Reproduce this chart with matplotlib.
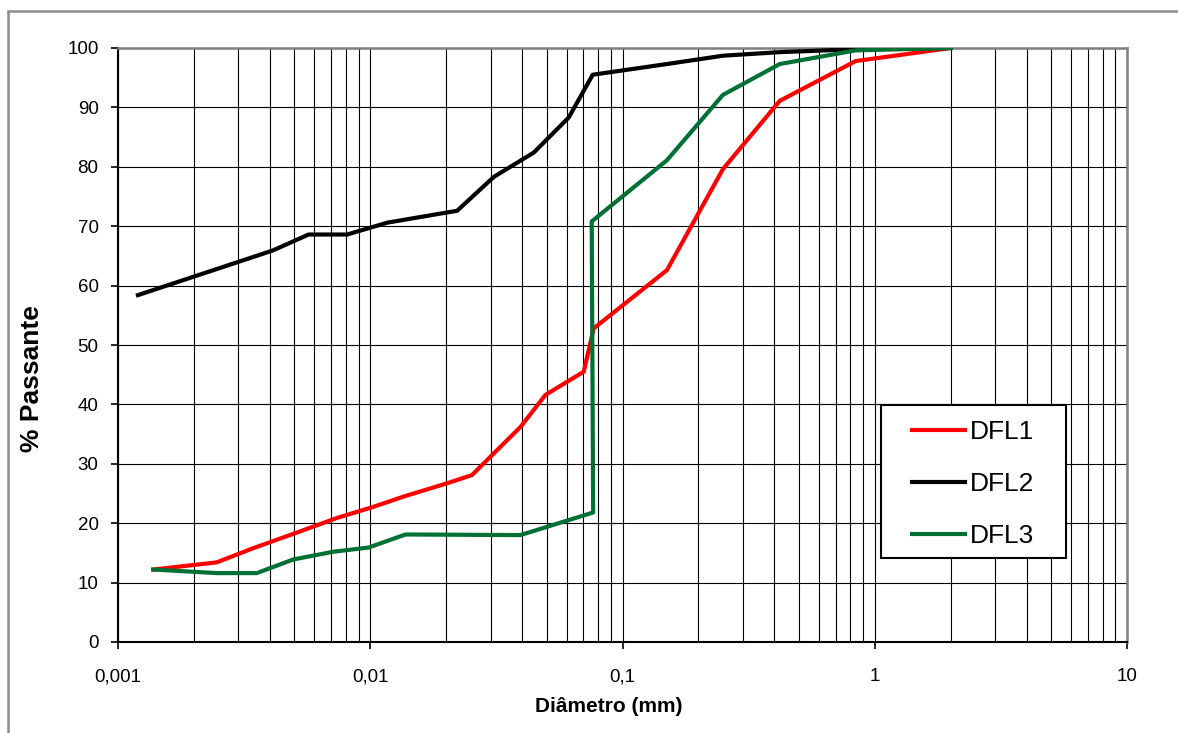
import matplotlib.pyplot as plt
from matplotlib.patches import Rectangle
from matplotlib.ticker import FixedLocator, LogLocator, NullFormatter

plt.rcParams['font.family'] = ['Liberation Sans', 'DejaVu Sans']

# diameters (mm) and % passing
dfl1_d = [0.00138, 0.00246, 0.00344, 0.0051, 0.0074, 0.0102, 0.0136, 0.0201, 0.0253,
          0.0394, 0.0495, 0.0702, 0.0769, 0.15, 0.25, 0.42, 0.84, 2.0]
dfl1_p = [12.2, 13.4, 15.8, 18.4, 20.9, 22.7, 24.5, 26.7, 28.1,
          36.2, 41.6, 45.5, 52.8, 62.6, 79.6, 91.1, 97.8, 100]

dfl2_d = [0.0012, 0.0041, 0.0057, 0.0081, 0.0117, 0.0221, 0.0309, 0.0445, 0.0612,
          0.0762, 0.15, 0.25, 0.42, 0.84, 2.0]
dfl2_p = [58.4, 65.9, 68.6, 68.6, 70.6, 72.6, 78.3, 82.4, 88.3,
          95.5, 97.3, 98.7, 99.3, 99.8, 100]

dfl3_d = [0.00138, 0.00246, 0.00355, 0.00496, 0.00715, 0.00985, 0.0138, 0.0394,
          0.0765, 0.0755, 0.15, 0.25, 0.42, 0.84, 2.0]
dfl3_p = [12.2, 11.6, 11.6, 13.9, 15.2, 15.9, 18.1, 18.0,
          21.8, 70.8, 81.1, 92.1, 97.3, 99.6, 100]

x_ticks = [0.001, 0.01, 0.1, 1, 10]
x_labels = ['0,001', '0,01', '0,1', '1', '10']
y_ticks = list(range(0, 101, 10))

fig = plt.figure(figsize=(11.78, 7.33), dpi=100)
ax = fig.add_axes([118/1178, 91/733, 1009/1178, 594/733])

ax.plot(dfl1_d, dfl1_p, color='#ff0000', lw=3, label='DFL1', zorder=3)
ax.plot(dfl2_d, dfl2_p, color='black', lw=3, label='DFL2', zorder=3)
ax.plot(dfl3_d, dfl3_p, color='#007034', lw=3, label='DFL3', zorder=3)

ax.set_xscale('log')
ax.set_xlim(0.001, 10)
ax.set_ylim(0, 100)
ax.xaxis.set_major_locator(FixedLocator(x_ticks))
ax.set_xticklabels(x_labels)
ax.xaxis.set_minor_locator(LogLocator(base=10, subs=range(2, 10)))
ax.xaxis.set_minor_formatter(NullFormatter())
ax.set_yticks(y_ticks)

ax.grid(True, which='both', axis='x', color='black', lw=0.8)
ax.grid(True, which='major', axis='y', color='black', lw=0.8)
ax.set_axisbelow(True)

ax.tick_params(axis='both', which='major', direction='out', length=5, width=1.2,
               labelsize=13.5, color='black')
ax.tick_params(axis='x', which='major', pad=14)
ax.tick_params(axis='y', which='major', pad=9)
ax.tick_params(axis='x', which='minor', length=0)

for s in ['left', 'bottom']:
    ax.spines[s].set_color('black')
    ax.spines[s].set_linewidth(1.5)
for s in ['top', 'right']:
    ax.spines[s].set_color('#808080')
    ax.spines[s].set_linewidth(1.8)

ax.set_xlabel('Diâmetro (mm)', fontsize=15, fontweight='bold')
ax.set_ylabel('% Passante', fontsize=19, fontweight='bold')
ax.xaxis.set_label_coords(0.4866, -0.092)
ax.yaxis.set_label_coords(-0.0733, 0.444)

# legend box
ax.add_patch(Rectangle((0.756, 0.141), 0.1837, 0.2576, transform=ax.transAxes,
                       facecolor='white', edgecolor='black', lw=1.5, zorder=4))
leg = ax.legend(loc='upper left', bbox_to_anchor=(0.787, 0.373),
                fontsize=19, frameon=False,
                handlelength=2.0, handletextpad=0.2, labelspacing=1.06,
                borderpad=0, borderaxespad=0)
leg.set_zorder(5)

fig.patches.append(Rectangle((8/1178, -0.1), 1.2, (733-11)/733 + 0.1,
                             transform=fig.transFigure, fill=False,
                             edgecolor='#8c8c8c', lw=1.8))

fig.savefig('out.png', dpi=100)
